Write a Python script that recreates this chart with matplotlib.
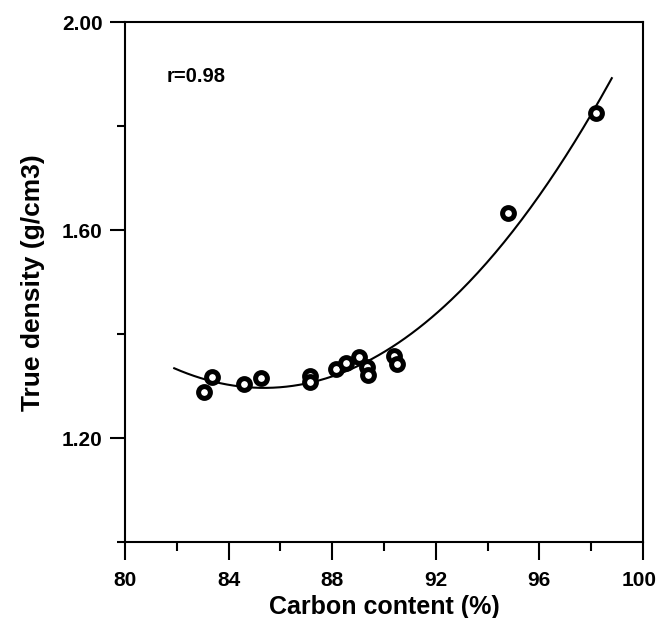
import numpy as np
import matplotlib
matplotlib.use("Agg")
import matplotlib.pyplot as plt
import matplotlib.transforms as mtransforms
from matplotlib.ticker import MultipleLocator

plt.rcParams["font.family"] = ["Liberation Sans", "DejaVu Sans"]
plt.rcParams["font.weight"] = "bold"

# carbon content (%) and true density (g/cm3)
carbon = [83.05, 83.35, 84.6, 85.25, 87.15, 87.15, 88.15, 88.55, 89.05,
          89.35, 89.4, 90.4, 90.5, 94.8, 98.2]
density = [1.289, 1.317, 1.304, 1.316, 1.320, 1.309, 1.333, 1.344, 1.356,
           1.336, 1.322, 1.359, 1.343, 1.632, 1.825]
r_label = "r=0.98"

# cubic regression line through the points
coef = np.polyfit(carbon, density, 3)
xfit = np.linspace(81.9, 98.8, 200)
yfit = np.polyval(coef, xfit)

fig = plt.figure(figsize=(6.58, 6.18), dpi=100)
ax = fig.add_axes([0.190, 0.1225, 0.787, 0.8419])

ax.plot(xfit, yfit, color="black", lw=1.5)
ax.plot(carbon, density, "o", ms=8.5, mfc="white", mec="black", mew=3.6)

ax.set_xlim(80, 100)
ax.set_ylim(1.0, 2.0)
ax.set_xticks([80, 84, 88, 92, 96, 100])
ax.xaxis.set_minor_locator(MultipleLocator(2))
ax.set_yticks([1.2, 1.6, 2.0])
ax.set_yticklabels(["1.20", "1.60", "2.00"])
ax.set_yticks([1.0, 1.4, 1.8], minor=True)

for s in ax.spines.values():
    s.set_linewidth(1.5)
ax.tick_params(which="both", direction="out", width=1.5, labelsize=15)
ax.tick_params(axis="x", which="major", length=13, pad=8)
ax.tick_params(axis="x", which="minor", length=6.5)
ax.tick_params(axis="y", which="major", length=11, pad=5)
ax.tick_params(axis="y", which="minor", length=6)

# keep "100" inside the canvas
last = ax.get_xticklabels()[-1]
last.set_transform(last.get_transform() +
                   mtransforms.ScaledTranslation(-3 / 72, 0, fig.dpi_scale_trans))

ax.set_xlabel("Carbon content (%)", fontsize=18, fontweight="bold", labelpad=3)
ax.set_ylabel("True density (g/cm3)", fontsize=19, fontweight="bold", labelpad=12)
ax.text(81.6, 1.895, r_label, fontsize=14.5, fontweight="bold", va="center")

fig.savefig("out.png", dpi=100)
